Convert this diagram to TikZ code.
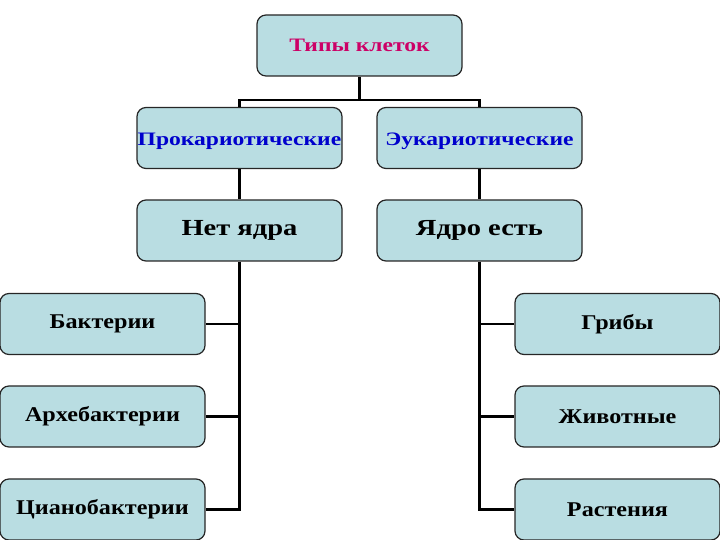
\documentclass[tikz,border=0pt]{standalone}
\usepackage{fontspec}
\setmainfont{Liberation Serif}
\newfontfamily\wideserif[FakeStretch=1.24]{Liberation Serif}
\newfontfamily\midserif[FakeStretch=1.15]{Liberation Serif}
\usetikzlibrary{positioning}

\definecolor{cellfill}{RGB}{185,221,226}
\definecolor{titlered}{RGB}{204,0,102}
\definecolor{headblue}{RGB}{0,0,204}

\begin{document}
\begin{tikzpicture}[
        x = 1pt, y = 1pt, node distance = 92.5pt and 120pt, on grid,
        cell/.style = {draw = black!85, line width = 1.2pt, fill = cellfill, rounded corners = 9pt,
                       minimum width = 205pt, minimum height = 61pt, inner xsep = 0pt},
        head/.style = {cell, font = \wideserif\bfseries\fontsize{19}{22}\selectfont},
        kind/.style = {head, text height = 20pt, text depth = 5pt},
        core/.style = {cell, font = \wideserif\bfseries\fontsize{23}{26}\selectfont},
        leaf/.style = {cell, font = \midserif\bfseries\fontsize{21}{24}\selectfont},
        tie/.style = {draw = black, line width = 2.4pt}
    ]
      \useasboundingbox (0,0) rectangle (720,540);

      \node[head, text = titlered] (types) at (359.5,494.5) {Типы клеток};
      \node[kind, text = headblue] (prok) [below left = 92.5pt and 120pt of types] {Прокариотические};
      \node[kind, text = headblue] (euk) [below right = 92.5pt and 120pt of types] {Эукариотические};
      \node[core] (nonuc) [below = of prok] {Нет ядра};
      \node[core] (hasnuc) [below = of euk] {Ядро есть};

      \node[leaf] (bact) [below left = 93.5pt and 137pt of nonuc] {Бактерии};
      \node[leaf] (arch) [below = of bact] {Архебактерии};
      \node[leaf] (cyan) [below = 93pt of arch] {Цианобактерии};
      \node[leaf] (fungi) [below right = 93.5pt and 138pt of hasnuc] {Грибы};
      \node[leaf] (anim) [below = of fungi] {Животные};
      \node[leaf] (plant) [below = 93pt of anim] {Растения};

      \coordinate [below = 54.5pt of types] (fork);

      \path[tie]
        (types.south) -- (fork) -| (prok.north)
        (fork) -| (euk.north)
        (prok.south) -- (nonuc.north)
        (euk.south) -- (hasnuc.north)
        (nonuc.south) |- (bact.east)
        (nonuc.south) |- (arch.east)
        (nonuc.south) |- (cyan.east)
        (hasnuc.south) |- (fungi.west)
        (hasnuc.south) |- (anim.west)
        (hasnuc.south) |- (plant.west);
    \end{tikzpicture}
\end{document}
